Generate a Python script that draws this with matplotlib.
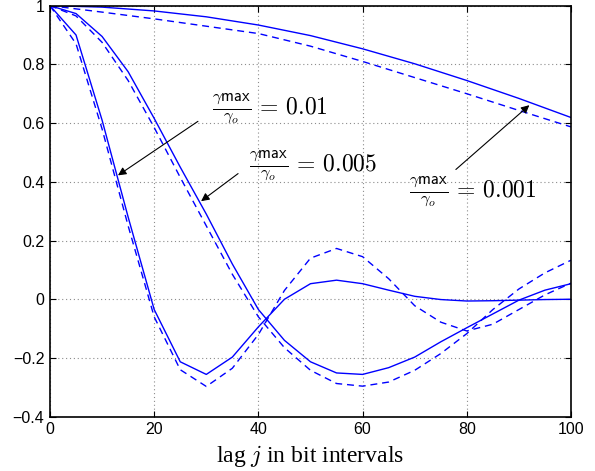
import numpy as np
import matplotlib
matplotlib.use('Agg')
import matplotlib.pyplot as plt

plt.rcParams['mathtext.fontset'] = 'cm'
plt.rcParams['axes.unicode_minus'] = True

# lag axis (bit intervals)
lag5 = np.arange(0, 101, 5)
lag10 = np.arange(0, 101, 10)

# gamma_max / gamma_o = 0.01
solid_01 = [1.0, 0.90, 0.61, 0.28, -0.035, -0.213, -0.256, -0.197, -0.094, 0.0, 0.053,
            0.065, 0.053, 0.031, 0.01, -0.001, -0.006, -0.005, -0.003, -0.001, 0.0]
dashed_01 = [1.0, 0.87, 0.58, 0.25, -0.06, -0.24, -0.297, -0.235, -0.12, 0.03, 0.14,
             0.173, 0.145, 0.07, -0.022, -0.078, -0.108, -0.085, -0.035, 0.015, 0.055]

# gamma_max / gamma_o = 0.005
solid_005 = [1.0, 0.973, 0.895, 0.775, 0.616, 0.45, 0.29, 0.12, -0.035, -0.14, -0.213,
             -0.251, -0.256, -0.233, -0.197, -0.145, -0.097, -0.05, -0.003, 0.031, 0.053]
dashed_005 = [1.0, 0.965, 0.875, 0.745, 0.585, 0.415, 0.25, 0.085, -0.06, -0.165, -0.242,
              -0.287, -0.296, -0.282, -0.242, -0.185, -0.117, -0.035, 0.035, 0.09, 0.133]

# gamma_max / gamma_o = 0.001
solid_001 = [1.0, 0.995, 0.982, 0.962, 0.934, 0.898, 0.853, 0.802, 0.745, 0.684, 0.619]
dashed_001 = [1.0, 0.978, 0.955, 0.93, 0.905, 0.862, 0.81, 0.755, 0.70, 0.643, 0.587]

labels = [r'$\frac{\gamma\mathsf{max}}{\gamma_o}\,=\,0.01$',
          r'$\frac{\gamma\mathsf{max}}{\gamma_o}\,=\,0.005$',
          r'$\frac{\gamma\mathsf{max}}{\gamma_o}\,=\,0.001$']

fig = plt.figure(figsize=(5.95, 4.71), dpi=100)
ax = fig.add_axes([0.084, 0.1153, 0.8757, 0.8727])

dash = (0, (5, 3.5))
ax.plot(lag5, solid_01, color='b', lw=1.0)
ax.plot(lag5, dashed_01, color='b', lw=1.0, linestyle=dash)
ax.plot(lag5, solid_005, color='b', lw=1.0)
ax.plot(lag5, dashed_005, color='b', lw=1.0, linestyle=dash)
ax.plot(lag10, solid_001, color='b', lw=1.0)
ax.plot(lag10, dashed_001, color='b', lw=1.0, linestyle=dash)

ax.set_xlim(0, 100)
ax.set_ylim(-0.4, 1)
ax.set_xticks([0, 20, 40, 60, 80, 100])
ax.set_yticks([-0.4, -0.2, 0, 0.2, 0.4, 0.6, 0.8, 1])
ax.set_yticklabels(['\u22120.4', '\u22120.2', '0', '0.2', '0.4', '0.6', '0.8', '1'])
ax.grid(True, linestyle=(0, (1, 2.5)), color='0.55', lw=0.8)
ax.tick_params(direction='in', top=True, right=True, length=4, width=0.8,
               labelsize=11.5, pad=4)
for lab in ax.get_xticklabels() + ax.get_yticklabels():
    lab.set_family('Liberation Sans')
for s in ax.spines.values():
    s.set_linewidth(1.2)

ax.set_xlabel(r'lag $j$ in bit intervals', family='Liberation Serif', fontsize=17, labelpad=4)

arrow = dict(arrowstyle='-|>', color='k', lw=0.8, mutation_scale=12, shrinkA=0, shrinkB=0)
ax.annotate('', xy=(13.05, 0.422), xytext=(28.4, 0.606), arrowprops=arrow)
ax.annotate('', xy=(29.0, 0.334), xytext=(36.1, 0.428), arrowprops=arrow)
ax.annotate('', xy=(92.0, 0.661), xytext=(77.9, 0.442), arrowprops=arrow)

ax.text(31.1, 0.651, labels[0], fontsize=17, ha='left', va='center')
ax.text(38.2, 0.457, labels[1], fontsize=17, ha='left', va='center')
ax.text(68.9, 0.368, labels[2], fontsize=17, ha='left', va='center')

fig.savefig('out.png', dpi=100)
